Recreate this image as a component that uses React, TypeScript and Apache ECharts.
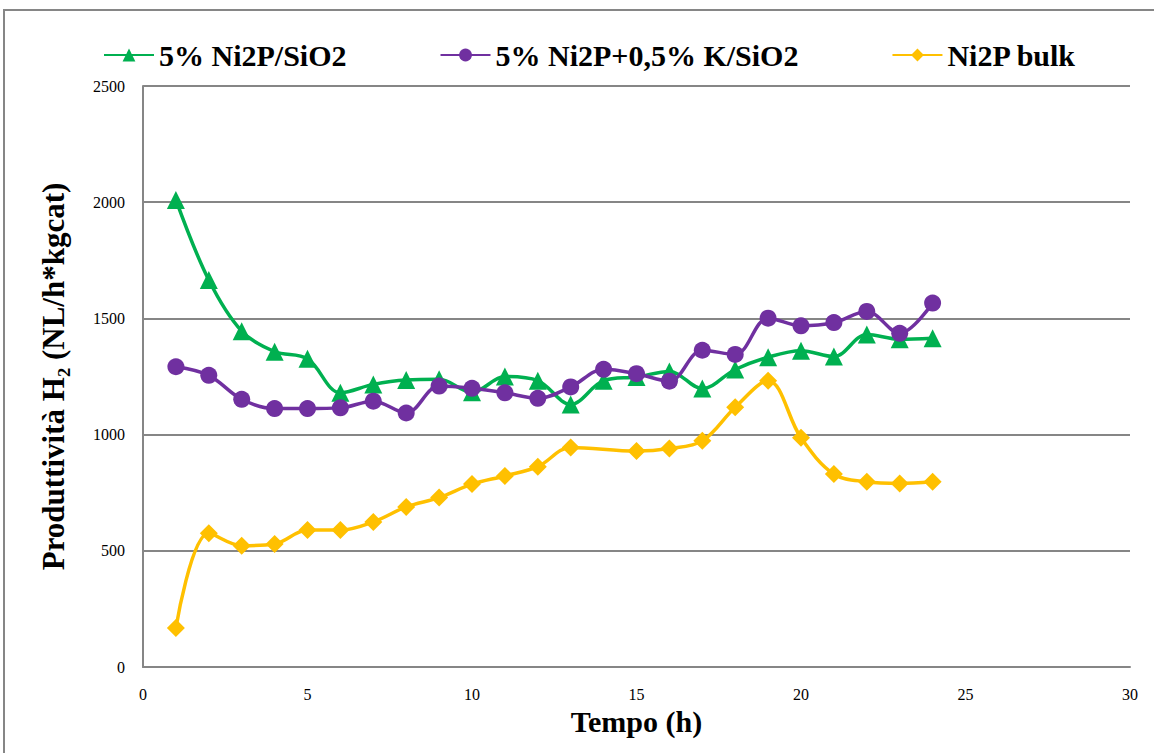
import React, { useEffect, useRef } from "react";
import * as echarts from "echarts";

const hours = [1, 2, 3, 4, 5, 6, 7, 8, 9, 10, 11, 12, 13, 14, 15, 16, 17, 18, 19, 20, 21, 22, 23, 24];
const ni2pSiO2 = [2010, 1665, 1445, 1357, 1326, 1180, 1216, 1235, 1238, 1182, 1250, 1232, 1130, 1232, 1248, 1272, 1198, 1280, 1333, 1361, 1336, 1431, 1410, 1415];
const ni2pKSiO2 = [1292, 1255, 1152, 1112, 1112, 1115, 1144, 1093, 1209, 1199, 1180, 1156, 1205, 1281, 1262, 1230, 1363, 1345, 1501, 1468, 1482, 1530, 1436, 1566];
const bulkHours = [1, 2, 3, 4, 5, 6, 7, 8, 9, 10, 11, 12, 13, 15, 16, 17, 18, 19, 20, 21, 22, 23, 24];
const ni2pBulk = [168, 575, 522, 529, 589, 589, 624, 689, 729, 787, 822, 862, 945, 929, 940, 973, 1118, 1232, 986, 830, 797, 790, 797];

const seriesNames = ["5% Ni2P/SiO2", "5% Ni2P+0,5% K/SiO2", "Ni2P bulk"];
const colors = ["#00B050", "#7030A0", "#FFC000"];

const pair = (xs: number[], ys: number[]) => xs.map((x, i) => [x, ys[i]]);

export default function App() {
  const ref = useRef<HTMLDivElement>(null);
  useEffect(() => {
    document.body.style.margin = "0";
    const chart = echarts.init(ref.current!, null, { renderer: "svg" });
    const serif = "Liberation Serif";
    const gray = "#868686";
    chart.setOption({
      animation: false,
      backgroundColor: "#ffffff",
      textStyle: { fontFamily: serif },
      graphic: [
        {
          type: "rect",
          shape: { x: 4, y: 10, width: 1200, height: 800 },
          style: { fill: "none", stroke: gray, lineWidth: 2 },
          silent: true,
        },
      ],
      legend: {
        top: 35,
        left: 98,
        itemWidth: 50,
        itemHeight: 16,
        itemGap: 93,
        textStyle: { fontFamily: "Liberation Serif, DejaVu Serif, serif", fontWeight: 700, fontSize: 30, color: "#000" },
        data: seriesNames,
      },
      grid: { left: 143, right: 24, top: 86, bottom: 86, containLabel: false },
      xAxis: {
        type: "value",
        min: 0,
        max: 30,
        interval: 5,
        name: "Tempo (h)",
        nameLocation: "middle",
        nameGap: 38,
        nameTextStyle: { fontFamily: serif, fontWeight: "bold", fontSize: 30, color: "#000" },
        axisLine: { show: true, lineStyle: { color: gray, width: 2 } },
        axisTick: { show: false },
        splitLine: { show: false },
        axisLabel: { fontFamily: serif, fontSize: 16, color: "#000", margin: 19, formatter: (v: number) => String(v) },
      },
      yAxis: {
        type: "value",
        min: 0,
        max: 2500,
        interval: 500,
        name: "Produttività H₂ (NL/h*kgcat)",
        nameLocation: "middle",
        nameGap: 74,
        nameTextStyle: { fontFamily: serif, fontWeight: "bold", fontSize: 31, color: "#000" },
        axisLine: { show: true, lineStyle: { color: gray, width: 2 } },
        axisTick: { show: false },
        splitLine: { show: true, lineStyle: { color: gray, width: 2 } },
        axisLabel: { fontFamily: serif, fontSize: 16, color: "#000", margin: 18, formatter: (v: number) => String(v) },
      },
      series: [
        {
          name: seriesNames[0],
          type: "line",
          data: pair(hours, ni2pSiO2),
          smooth: 0.35,
          symbol: "triangle",
          symbolSize: 18,
          lineStyle: { color: colors[0], width: 3.5 },
          itemStyle: { color: colors[0] },
          z: 3,
        },
        {
          name: seriesNames[1],
          type: "line",
          data: pair(hours, ni2pKSiO2),
          smooth: 0.35,
          symbol: "circle",
          symbolSize: 17,
          lineStyle: { color: colors[1], width: 3.5 },
          itemStyle: { color: colors[1] },
          z: 4,
        },
        {
          name: seriesNames[2],
          type: "line",
          data: pair(bulkHours, ni2pBulk),
          smooth: 0.35,
          symbol: "diamond",
          symbolSize: 18,
          lineStyle: { color: colors[2], width: 3.5 },
          itemStyle: { color: colors[2] },
          z: 2,
        },
      ],
    });
    return () => chart.dispose();
  }, []);
  return <div ref={ref} style={{ width: 1154, height: 753 }} />;
}
